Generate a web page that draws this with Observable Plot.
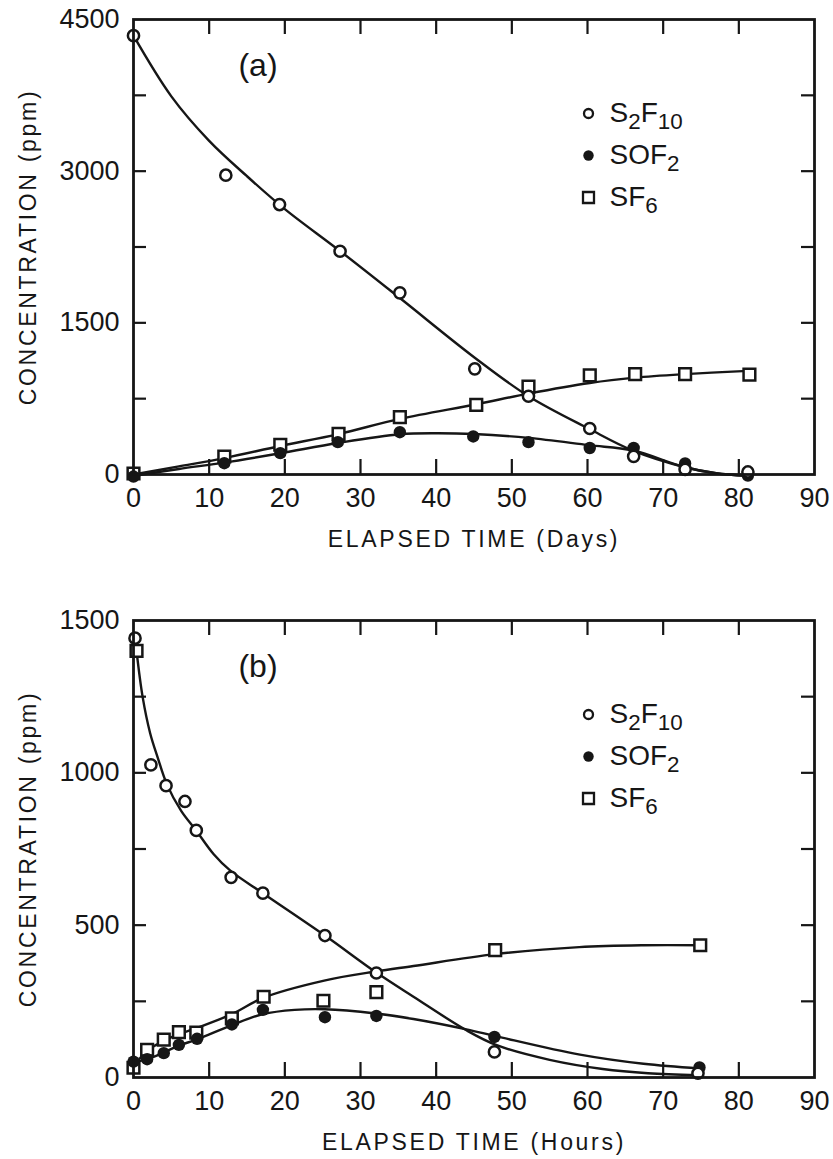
<!DOCTYPE html>
<html>
<head>
<meta charset="utf-8">
<script src="https://cdn.jsdelivr.net/npm/d3@7"></script>
<script src="https://cdn.jsdelivr.net/npm/@observablehq/plot@0.6"></script>
<style>
  html, body { margin: 0; padding: 0; background: #ffffff; }
  #chart svg { display: block; }
</style>
</head>
<body>
<div id="chart"></div>
<script>
// ---------------- DATA ----------------
const seriesNames = ["S2F10", "SOF2", "SF6"];
const xLabelTicks = [0, 10, 20, 30, 40, 50, 60, 70, 80, 90];
const xInnerTicks = [10, 20, 30, 40, 50, 60, 70, 80];

// Panel (a): elapsed time in days, concentration in ppm
const aYLabels = [0, 1500, 3000, 4500];
const aYMinor = [750, 1500, 2250, 3000, 3750];
const aS2F10 = [[0,4340],[12.2,2960],[19.3,2670],[27.3,2208],[35.2,1797],[45.1,1045],[52.2,774],[60.3,455],[66.1,180],[72.9,50],[81.2,25]];
const aSOF2  = [[0,-20],[12,112],[19.4,211],[27,320],[35.2,418],[44.9,376],[52.2,320],[60.3,262],[66.1,262],[72.9,109],[81.2,-10]];
const aSF6   = [[0,10],[12,178],[19.4,294],[27.1,402],[35.2,567],[45.3,689],[52.2,870],[60.3,980],[66.3,992],[72.9,992],[81.4,988]];
// fitted curves, panel (a)
const aS2F10Fit = [[0,4340],[5,3740],[10,3300],[15,2950],[20,2625],[27.3,2210],[35.2,1745],[45.1,1155],[52.2,774],[60.2,452],[66,237],[72.9,72],[77,12],[81,-12]];
const aSOF2Fit  = [[0,-15],[6,55],[12,118],[19.4,210],[27,312],[35.2,398],[40,408],[45,400],[52.2,362],[60.2,290],[66,237],[72.9,72],[77,12],[81,-12]];
const aSF6Fit   = [[0,0],[6,80],[12,162],[19.4,282],[27.1,400],[35.2,550],[45.3,695],[52.2,800],[60.3,905],[66.3,958],[72.9,993],[81.2,1025]];

// Panel (b): elapsed time in hours, concentration in ppm
const bYLabels = [0, 500, 1000, 1500];
const bYMinor = [250, 500, 750, 1000, 1250];
const bS2F10 = [[0.2,1442],[2.3,1026],[4.3,958],[6.8,906],[8.3,811],[12.9,657],[17.1,605],[25.3,466],[32.1,343],[47.7,84],[74.6,14]];
const bSOF2  = [[0,52],[1.8,60],[4,80],[6,107],[8.4,127],[13,174],[17.1,222],[25.3,198],[32.1,202],[47.7,133],[74.8,33]];
const bSF6   = [[0.4,1400],[0,32],[1.8,91],[4,124],[6,149],[8.3,147],[13,194],[17.2,265],[25.1,252],[32.1,280],[47.8,418],[74.9,434]];
// fitted curves, panel (b)
const bS2F10Fit = [[0.4,1400],[1.2,1250],[2.2,1130],[3.2,1050],[4.4,963],[6.3,875],[8.3,810],[10.6,733],[12.8,679],[17.1,605],[25.3,466],[32,346],[37,265],[44,155],[48,106],[55,58],[62,28],[68,14],[74.6,8]];
const bSOF2Fit  = [[0,50],[1.8,60],[4,82],[6,105],[8.4,125],[13,172],[17.1,208],[21.3,222],[25.3,224],[32,210],[37,192],[44,158],[48,135],[59,75],[67.4,45],[74.8,30]];
const bSF6Fit   = [[0,35],[1.8,88],[4,120],[6,142],[8.3,162],[13,208],[17.2,262],[25.2,318],[32,348],[37,366],[47.8,405],[58.9,428],[67.4,434],[74.9,434]];

// ---------------- DRAWING ----------------
const W = 833;
const ink = "#161616";
const FONT = "'Liberation Sans', Arial, Helvetica, sans-serif";

function panel(cfg) {
  const {height, marginTop, frameH, tag, xTitle, yLabels, yMinor, yDomain, pts, fits} = cfg;
  const marginLeft = 133, marginRight = 19;
  const marginBottom = height - marginTop - frameH;
  const plotW = W - marginLeft - marginRight;
  const X = d => d[0], Y = d => d[1];
  const marks = [];

  // inward ticks on all four sides
  marks.push(Plot.tickX(xInnerTicks, {x: d => d, insetTop: frameH - 15, stroke: ink, strokeWidth: 2.2}));
  marks.push(Plot.tickX(xInnerTicks, {x: d => d, insetBottom: frameH - 15, stroke: ink, strokeWidth: 2.2}));
  marks.push(Plot.tickY(yMinor, {y: d => d, insetRight: plotW - 13, stroke: ink, strokeWidth: 2.2}));
  marks.push(Plot.tickY(yMinor, {y: d => d, insetLeft: plotW - 13, stroke: ink, strokeWidth: 2.2}));

  // tick labels
  marks.push(Plot.axisX({ticks: xLabelTicks, tickSize: 0, tickPadding: 13, label: null, tickFormat: d => String(d), fill: ink}));
  marks.push(Plot.axisY({ticks: yLabels, tickSize: 0, tickPadding: 14, label: null, tickFormat: d => String(d), fill: ink}));

  // fitted curves
  for (const f of fits) {
    marks.push(Plot.line(f, {x: X, y: Y, curve: "catmull-rom", stroke: ink, strokeWidth: 2.4}));
  }
  // measured points
  marks.push(Plot.dot(pts.SF6, {x: X, y: Y, symbol: "square", r: 6.6, stroke: ink, strokeWidth: 2.5, fill: "white"}));
  marks.push(Plot.dot(pts.SOF2, {x: X, y: Y, r: 6.2, fill: ink, stroke: "none"}));
  marks.push(Plot.dot(pts.S2F10, {x: X, y: Y, r: 5.6, stroke: ink, strokeWidth: 2.5, fill: "white"}));

  // legend
  const legendStyle = {
    S2F10: {symbol: "circle", r: 4.5, stroke: ink, strokeWidth: 2.3, fill: "white"},
    SOF2:  {symbol: "circle", r: 5.2, fill: ink, stroke: "none"},
    SF6:   {symbol: "square", r: 6.2, stroke: ink, strokeWidth: 2.3, fill: "white"}
  };
  seriesNames.forEach((name, i) => {
    const dy = 94 + i * 42;
    marks.push(Plot.dot([name], {frameAnchor: "top-left", dx: 455, dy, ...legendStyle[name]}));
    marks.push(Plot.text([name], {frameAnchor: "top-left", dx: 476, dy, text: d => d, textAnchor: "start", lineAnchor: "middle", fontSize: 28, fill: ink}));
  });

  // panel tag
  marks.push(Plot.text([tag], {frameAnchor: "top-left", dx: 124.5, dy: 56, text: d => d, textAnchor: "middle", lineAnchor: "bottom", fontSize: 32, fill: ink}));

  // axis titles
  marks.push(Plot.text([xTitle], {frameAnchor: "bottom", dy: 65, text: d => d, textAnchor: "middle", lineAnchor: "middle", fontSize: 23, fill: ink}));
  marks.push(Plot.text(["CONCENTRATION (ppm)"], {frameAnchor: "left", dx: -105, text: d => d, rotate: -90, textAnchor: "middle", lineAnchor: "middle", fontSize: 23, fill: ink}));

  marks.push(Plot.frame({stroke: ink, strokeWidth: 2.8}));

  const svg = Plot.plot({
    width: W, height, marginTop, marginBottom, marginLeft, marginRight,
    x: {domain: [0, 90]},
    y: {domain: yDomain},
    style: {fontFamily: FONT, fontSize: "27px", color: ink, background: "white", overflow: "visible"},
    marks
  });
  decorate(svg);
  return svg;
}

function decorate(svg) {
  d3.select(svg).selectAll("text").each(function () {
    const el = d3.select(this);
    const t = this.textContent;
    if (/^(ELAPSED|CONCENTRATION)/.test(t)) el.attr("letter-spacing", "2.7px");
    if (seriesNames.includes(t)) {
      el.text("");
      const parts = t.split(/(\d+)/).filter(s => s);
      let down = false;
      for (const p of parts) {
        const ts = el.append("tspan").text(p);
        if (/^\d+$/.test(p)) {
          ts.attr("font-size", "0.8em");
          if (!down) ts.attr("dy", 7);
          down = true;
        } else {
          if (down) ts.attr("dy", -7);
          down = false;
        }
      }
    }
  });
}

const chart = document.getElementById("chart");
chart.appendChild(panel({
  height: 600, marginTop: 19, frameH: 455, tag: "(a)",
  xTitle: "ELAPSED TIME (Days)", yLabels: aYLabels, yMinor: aYMinor, yDomain: [0, 4500],
  pts: {S2F10: aS2F10, SOF2: aSOF2, SF6: aSF6},
  fits: [aS2F10Fit, aSOF2Fit, aSF6Fit]
}));
chart.appendChild(panel({
  height: 559, marginTop: 20, frameH: 457, tag: "(b)",
  xTitle: "ELAPSED TIME (Hours)", yLabels: bYLabels, yMinor: bYMinor, yDomain: [0, 1500],
  pts: {S2F10: bS2F10, SOF2: bSOF2, SF6: bSF6},
  fits: [bS2F10Fit, bSOF2Fit, bSF6Fit]
}));
</script>
</body>
</html>
